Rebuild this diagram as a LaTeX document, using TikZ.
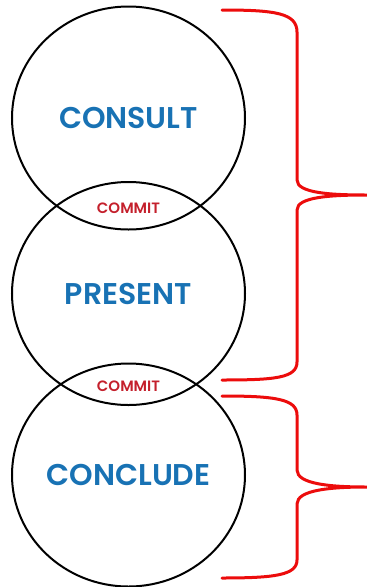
\documentclass[tikz,border=0pt]{standalone}
\usepackage{fontspec}
\setmainfont{Poppins}
\newfontfamily\stagefont{Poppins SemiBold}
\usetikzlibrary{shapes.geometric}

\definecolor{stageblue}{RGB}{24,114,180}
\definecolor{commitred}{RGB}{196,32,44}
\definecolor{bracered}{RGB}{236,12,12}

\begin{document}
\begin{tikzpicture} [
  x=1pt, y=-1pt,
  stage/.style= {ellipse,draw,line width=2pt,minimum width=233pt,minimum height=223pt,inner sep=0,
    text=stageblue,font=\stagefont\fontsize{30}{30}\selectfont},
  commit/.style= {text=commitred,inner sep=0,font=\stagefont\fontsize{15}{15}\selectfont},
  bracket/.style= {draw=bracered,line width=3pt,line cap=round,line join=round},
]
\useasboundingbox (0,0) rectangle (367,587);

% the three stages
\node (consult) [stage] at (128.5,118) {CONSULT};
\node (present) [stage] at (128.5,293.5) {PRESENT};
\node (conclude) [stage] at (128.5,475) {CONCLUDE};

% labels in the overlaps
\node (commitA) [commit] at (128.5,208.5) {COMMIT};
\node (commitB) [commit] at (128.5,386) {COMMIT};

% braces on the right
\draw [bracket] (222,10) .. controls (275,10) and (297,13) .. (297,32)
  -- (297,180) .. controls (297,193) and (330,195) .. (367,195)
  .. controls (330,195) and (297,197) .. (297,210)
  -- (297,362) .. controls (297,378) and (275,380) .. (222,380);
\draw [bracket] (222,396) .. controls (275,396) and (297,399) .. (297,415)
  -- (297,470) .. controls (297,484) and (330,487) .. (367,487)
  .. controls (330,487) and (297,490) .. (297,504)
  -- (297,560) .. controls (297,575) and (275,578) .. (222,578);
\end{tikzpicture}
\end{document}
